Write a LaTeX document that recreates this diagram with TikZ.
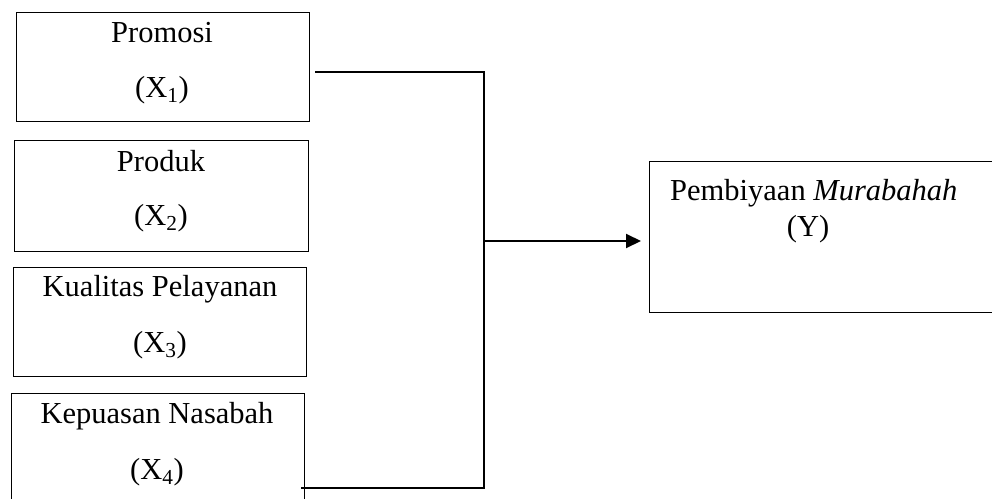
\documentclass[tikz,border=0pt]{standalone}
\usepackage{fontspec}
\setmainfont{Liberation Serif}
\usetikzlibrary{arrows.meta}
\begin{document}
\begin{tikzpicture}[x=1pt,y=-1pt,
  box/.style={draw=black,line width=1pt},
  lbl/.style={anchor=base,inner sep=0pt,font=\fontsize{30.5}{36}\selectfont},
  conn/.style={draw=black,line width=2pt},
  arr/.style={conn,-{Triangle[length=15pt,width=14pt]}}]
\useasboundingbox (0,0) rectangle (992,498);
\clip (0,0) rectangle (992,498);
% boxes
\draw[box] (16,12) rectangle (309,121);
\draw[box] (14,140) rectangle (308,251);
\draw[box] (13,267) rectangle (306,376);
\draw[box] (11,520) -- (11,393) -- (304,393) -- (304,520);
\draw[box] (1010,161) -- (649,161) -- (649,312) -- (1010,312);
% labels
\node[lbl] (t1) at (162,42) {Promosi};
\node[lbl] (s1) at (162,97) {(X\textsubscript{1})};
\node[lbl] (t2) at (161,171) {Produk};
\node[lbl] (s2) at (161,225) {(X\textsubscript{2})};
\node[lbl] (t3) at (160,296) {Kualitas Pelayanan};
\node[lbl] (s3) at (160,352) {(X\textsubscript{3})};
\node[lbl] (t4) at (157,423) {Kepuasan Nasabah};
\node[lbl] (s4) at (157,479) {(X\textsubscript{4})};
\node[lbl,anchor=base west] (ty) at (670,200) {Pembiyaan \textit{Murabahah}};
\node[lbl] (sy) at (808,236) {(Y)};
% connectors
\coordinate (a1) at (315,72);
\coordinate (j1) at (484,72);
\coordinate (a4) at (301,488);
\coordinate (j4) at (484,488);
\coordinate (jm) at (484,241);
\coordinate (yin) at (641,241);
\draw[conn] (a1) -- (j1) -- (j4) -- (a4);
\draw[arr] (jm) -- (yin);
\end{tikzpicture}
\end{document}
